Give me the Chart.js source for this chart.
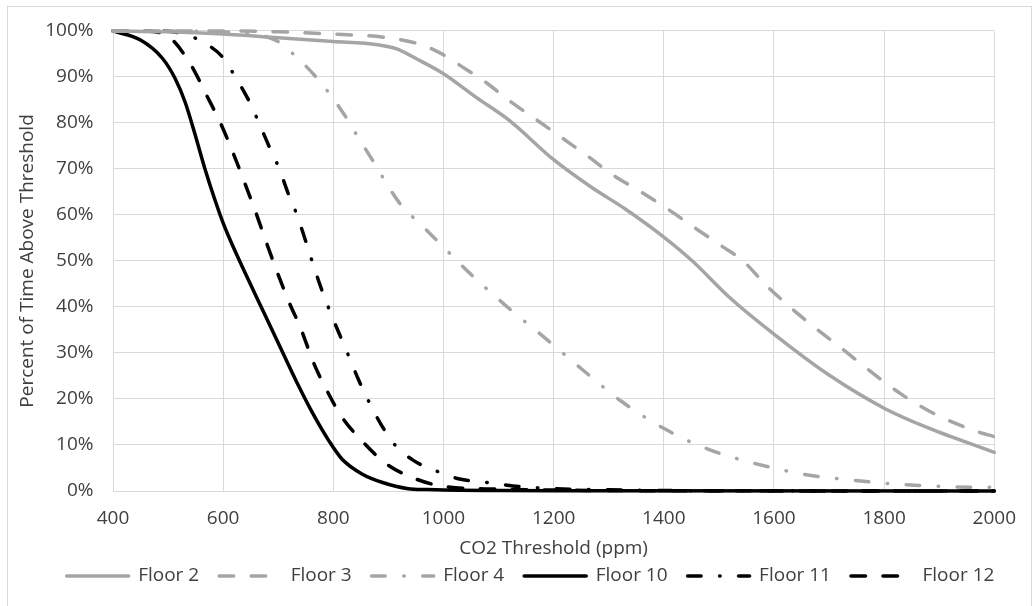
<!DOCTYPE html>
<html>
<head>
<meta charset="utf-8">
<title>CO2 Threshold Exceedance by Floor</title>
<script src="https://cdn.jsdelivr.net/npm/chart.js@4.4.1/dist/chart.umd.min.js"></script>
<style>
  html, body { margin: 0; padding: 0; background: #ffffff; }
  #wrap { position: relative; width: 1032px; height: 606px; overflow: hidden; }
  #frame { position: absolute; left: 7px; top: 6px; width: 1025px; height: 620px;
           border: 1px solid #d9d9d9; box-sizing: border-box; pointer-events: none; }
  canvas { position: absolute; left: 0; top: 0; }
</style>
</head>
<body>
<div id="wrap">
  <canvas id="chart" width="1032" height="606"></canvas>
  <div id="frame"></div>
</div>
<script>
// CO2 threshold (ppm) and percent of occupied time above that threshold, per floor
const floor2X  = [400, 500, 600, 700, 800, 880, 915, 950, 1000, 1060, 1120, 1200, 1270, 1330, 1400, 1450, 1520, 1600, 1700, 1800, 1880, 2000];
const floor2Y  = [100, 99.8, 99.3, 98.5, 97.7, 97.0, 96.1, 94.0, 90.7, 85.5, 80.5, 72.0, 65.9, 61.3, 55.2, 50.2, 42.0, 34.1, 25.2, 18.0, 13.7, 8.4];

const floor3X  = [400, 600, 700, 800, 900, 960, 1000, 1030, 1076, 1122, 1170, 1216, 1265, 1306, 1356, 1407, 1455, 1503, 1544, 1585, 1627, 1670, 1724, 1773, 1833, 1894, 1967, 2000];
const floor3Y  = [100, 100, 99.8, 99.3, 98.5, 97.0, 94.8, 92.5, 88.9, 84.6, 80.6, 76.7, 72.5, 68.8, 65.2, 61.3, 57.3, 53.4, 50.0, 44.8, 40.2, 35.9, 30.9, 26.2, 20.9, 16.6, 13.0, 11.8];

const floor4X  = [400, 600, 650, 698, 735, 767, 796, 821, 845, 868, 922, 960, 1000, 1048, 1113, 1183, 1253, 1323, 1403, 1480, 1568, 1656, 1747, 1835, 1929, 2000];
const floor4Y  = [100, 99.8, 99.4, 97.8, 94.1, 90.2, 85.9, 81.6, 76.9, 72.5, 62.3, 57.8, 53.0, 47.3, 40.3, 33.4, 26.3, 19.5, 13.4, 9.1, 5.9, 3.6, 2.3, 1.4, 0.9, 0.8];

const floor10X = [400, 450, 490, 513, 531, 549, 567, 585, 602, 620, 643, 673, 703, 733, 763, 792, 816, 852, 888, 936, 971, 1000, 1100, 1200, 2000];
const floor10Y = [100, 98.0, 94.0, 89.6, 84.5, 77.5, 70.0, 63.3, 57.6, 52.6, 46.6, 39.0, 31.4, 23.8, 16.8, 10.9, 6.9, 3.7, 1.9, 0.5, 0.3, 0.2, 0.1, 0.05, 0];

const floor11X = [400, 480, 530, 564, 599, 623, 646, 665, 683, 702, 717, 734, 748, 763, 777, 793, 810, 828, 845, 865, 886, 912, 946, 986, 1029, 1076, 1126, 1200, 1300, 1400, 2000];
const floor11Y = [100, 100, 99.3, 97.5, 94.3, 89.8, 85.0, 80.0, 75.0, 70.0, 65.0, 60.0, 55.0, 49.4, 44.4, 39.3, 34.4, 29.3, 24.4, 19.3, 14.6, 10.0, 6.6, 4.4, 2.6, 1.9, 1.1, 0.5, 0.25, 0.1, 0];

const floor12X = [400, 460, 490, 510, 543, 570, 595, 618, 639, 660, 680, 698, 719, 742, 763, 788, 816, 852, 895, 946, 1000, 1100, 1200, 1300, 2000];
const floor12Y = [100, 100, 99.4, 97.8, 92.3, 86.0, 80.0, 73.5, 67.0, 60.3, 53.5, 47.6, 41.2, 35.0, 28.2, 21.9, 16.0, 10.9, 6.0, 2.8, 1.0, 0.4, 0.2, 0.1, 0];

const seriesNames = ['Floor 2', 'Floor 3', 'Floor 4', 'Floor 10', 'Floor 11', 'Floor 12'];

// axis ranges and tick steps
const xTickMin = 400, xTickMax = 2000, xTickStep = 200;
const yTickMin = 0, yTickMax = 100, yTickStep = 10;

const GREY = '#a5a5a5';
const BLACK = '#000000';
const TEXT = '#404040';
const DASH = [14.5, 17.5];
const DASH_DOT = [13.5, 18.5, 0.5, 18.5];

function pairs(xs, ys) { return xs.map((x, i) => ({ x: x, y: ys[i] })); }

function lineSet(label, xs, ys, color, dash) {
  return {
    label: label,
    data: pairs(xs, ys),
    borderColor: color,
    backgroundColor: color,
    borderWidth: 3.5,
    borderDash: dash,
    borderCapStyle: 'round',
    borderJoinStyle: 'round',
    pointRadius: 0,
    pointHoverRadius: 0,
    cubicInterpolationMode: 'monotone',
    fill: false,
    clip: false
  };
}

Chart.defaults.font.family = "'Open Sans', 'DejaVu Sans', sans-serif";
Chart.defaults.font.size = 19;
Chart.defaults.color = TEXT;

// move the bottom legend row so it sits centred under the plot
const legendNudge = {
  id: 'legendNudge',
  afterLayout(chart) {
    const lg = chart.legend;
    if (lg) { lg.left += 25; lg.right += 25; }
  }
};

new Chart(document.getElementById('chart'), {
  type: 'line',
  data: {
    datasets: [
      lineSet(seriesNames[0], floor2X,  floor2Y,  GREY,  []),
      lineSet(seriesNames[1], floor3X,  floor3Y,  GREY,  DASH),
      lineSet(seriesNames[2], floor4X,  floor4Y,  GREY,  DASH_DOT),
      lineSet(seriesNames[3], floor10X, floor10Y, BLACK, []),
      lineSet(seriesNames[4], floor11X, floor11Y, BLACK, DASH_DOT),
      lineSet(seriesNames[5], floor12X, floor12Y, BLACK, DASH)
    ]
  },
  options: {
    responsive: false,
    animation: false,
    devicePixelRatio: 1,
    layout: { padding: { left: 8, right: 29, top: 25, bottom: 10.5 } },
    plugins: {
      tooltip: { enabled: false },
      legend: {
        position: 'bottom',
        labels: {
          usePointStyle: true,
          pointStyle: 'line',
          pointStyleWidth: 62,
          boxHeight: 19,
          padding: 20,
          color: TEXT,
          font: { size: 19 },
          // line samples carry each series' own stroke and dash pattern
          generateLabels(chart) {
            return chart.data.datasets.map((ds, i) => ({
              text: ds.label,
              fillStyle: ds.borderColor,
              strokeStyle: ds.borderColor,
              lineWidth: ds.borderWidth,
              lineDash: ds.borderDash,
              lineCap: 'round',
              lineJoin: 'round',
              pointStyle: 'line',
              fontColor: TEXT,
              hidden: false,
              datasetIndex: i
            }));
          }
        }
      }
    },
    scales: {
      x: {
        type: 'linear',
        min: xTickMin,
        max: xTickMax,
        ticks: { stepSize: xTickStep, padding: 16, maxRotation: 0, autoSkip: false, color: TEXT, callback: v => String(v) },
        grid: { color: '#d9d9d9', lineWidth: 1, drawTicks: false },
        border: { color: '#d9d9d9' },
        title: { display: true, text: 'CO2 Threshold (ppm)', color: TEXT, font: { size: 19 }, padding: { top: 0, bottom: -13 } },
        afterFit(scale) { scale.height = 55.5; }
      },
      y: {
        type: 'linear',
        min: yTickMin,
        max: yTickMax,
        ticks: { stepSize: yTickStep, padding: 19.5, color: TEXT, callback: v => v + '%' },
        grid: { color: '#d9d9d9', lineWidth: 1, drawTicks: false },
        border: { color: '#d9d9d9' },
        title: { display: true, text: 'Percent of Time Above Threshold', color: TEXT, font: { size: 19 }, padding: { top: 8.6, bottom: 0 } },
        afterFit(scale) { scale.width = 105; }
      }
    }
  },
  plugins: [legendNudge]
});
</script>
</body>
</html>
